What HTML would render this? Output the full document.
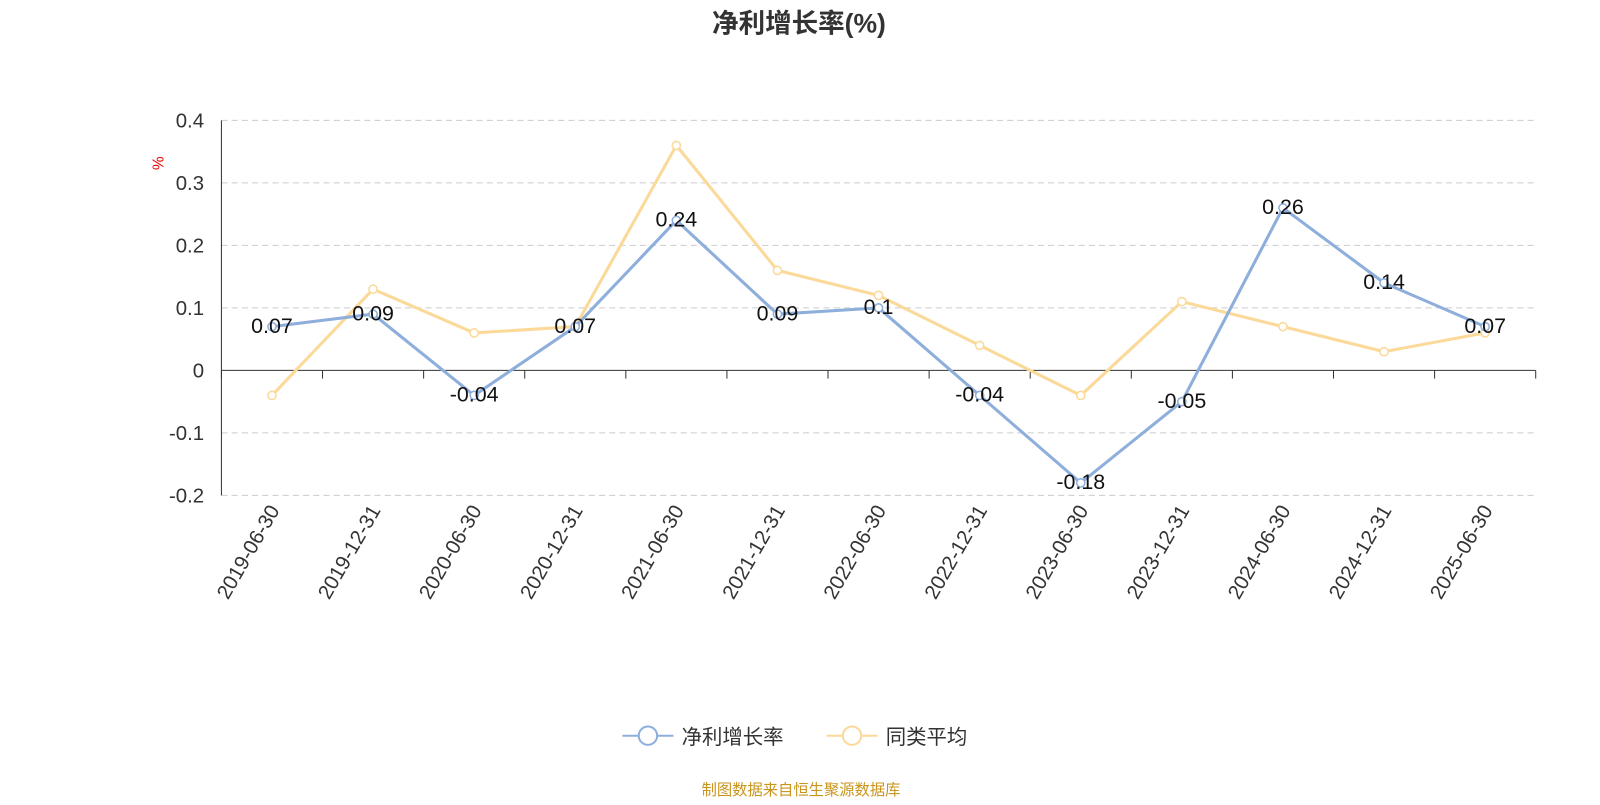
<!DOCTYPE html>
<html><head><meta charset="utf-8"><style>
body{margin:0;background:#fff;font-family:"Liberation Sans","Noto Sans CJK SC",sans-serif}
</style></head><body>
<svg id="c" width="1600" height="800" xmlns="http://www.w3.org/2000/svg" font-family="Liberation Sans, Noto Sans CJK SC, sans-serif">
<g transform="scale(1.0204)">
<text x="783" y="32" text-anchor="middle" font-size="26" font-weight="bold" fill="#333">净利增长率(%)</text>
<text transform="translate(160,160) rotate(-90)" text-anchor="middle" font-size="15" fill="#e00">%</text>
<g id="grid"></g><g id="axes"></g><g id="series"></g>
<g>
<line x1="610" y1="721" x2="660" y2="721" stroke="#8eaedb" stroke-width="2"/>
<circle cx="635" cy="721" r="9" fill="#fff" stroke="#8eaedb" stroke-width="2"/>
<text x="668" y="729" font-size="20" fill="#333">净利增长率</text>
<line x1="810" y1="721" x2="860" y2="721" stroke="#fbd999" stroke-width="2"/>
<circle cx="835" cy="721" r="9" fill="#fff" stroke="#fbd999" stroke-width="2"/>
<text x="868" y="729" font-size="20" fill="#333">同类平均</text>
</g>
<text x="785" y="779" text-anchor="middle" font-size="15" fill="#c8961e">制图数据来自恒生聚源数据库</text>
</g>
</svg>
<script>
const categories=["2019-06-30","2019-12-31","2020-06-30","2020-12-31","2021-06-30","2021-12-31","2022-06-30","2022-12-31","2023-06-30","2023-12-31","2024-06-30","2024-12-31","2025-06-30"];
const netProfit=[0.07,0.09,-0.04,0.07,0.24,0.09,0.1,-0.04,-0.18,-0.05,0.26,0.14,0.07];
const peerAvg=[-0.04,0.13,0.06,0.07,0.36,0.16,0.12,0.04,-0.04,0.11,0.07,0.03,0.06];
const yTicks=[0.4,0.3,0.2,0.1,0,-0.1,-0.2];
const NS="http://www.w3.org/2000/svg";
const x0=217,x1=1505,bw=(x1-x0)/categories.length;
const y=v=>363-v*612.5;
const x=i=>x0+bw*(i+0.5);
function mk(t,a,p){const e=document.createElementNS(NS,t);for(const k in a)e.setAttribute(k,a[k]);document.getElementById(p).appendChild(e);return e;}
yTicks.forEach(v=>{
 if(v!==0){const l=mk('line',{x1:x0,x2:x1,y1:y(v),y2:y(v),stroke:'#ccc','stroke-dasharray':'6,4'},'grid');
 
 }
 const t=mk('text',{x:200,y:y(v)+7,'text-anchor':'end','font-size':20,fill:'#333'},'axes');t.textContent=v;
 
 
});
let a=mk('line',{x1:x0,x2:x0,y1:y(0.4),y2:y(-0.2),stroke:'#333'},'axes');


a=mk('line',{x1:x0,x2:x1,y1:y(0),y2:y(0),stroke:'#333'},'axes');


for(let i=0;i<=categories.length;i++){const tk=mk('line',{x1:x0+bw*i,x2:x0+bw*i,y1:363,y2:371,stroke:'#333'},'axes');
 
 }
categories.forEach((c,i)=>{const t=mk('text',{transform:`translate(${x(i)+8},${500}) rotate(-60)`,'text-anchor':'end','font-size':20,fill:'#333'},'axes');t.textContent=c;
 
 });
function series(d,col,name){
 const p=mk('polyline',{points:d.map((v,i)=>x(i)+','+y(v)).join(' '),fill:'none',stroke:col,'stroke-width':3},'series');
 
 
 d.forEach((v,i)=>{const c=mk('circle',{cx:x(i),cy:y(v),r:4,fill:'#fff',stroke:col,'stroke-width':1.5},'series');
  
  });
}
series(peerAvg,'#fbd999','peer-average');
series(netProfit,'#8eaedb','net-profit');
netProfit.forEach((v,i)=>{const t=mk('text',{x:x(i),y:y(v)+6,'text-anchor':'middle','font-size':21,fill:'#111'},'series');t.textContent=v;
 
 });
</script>
</body></html>
